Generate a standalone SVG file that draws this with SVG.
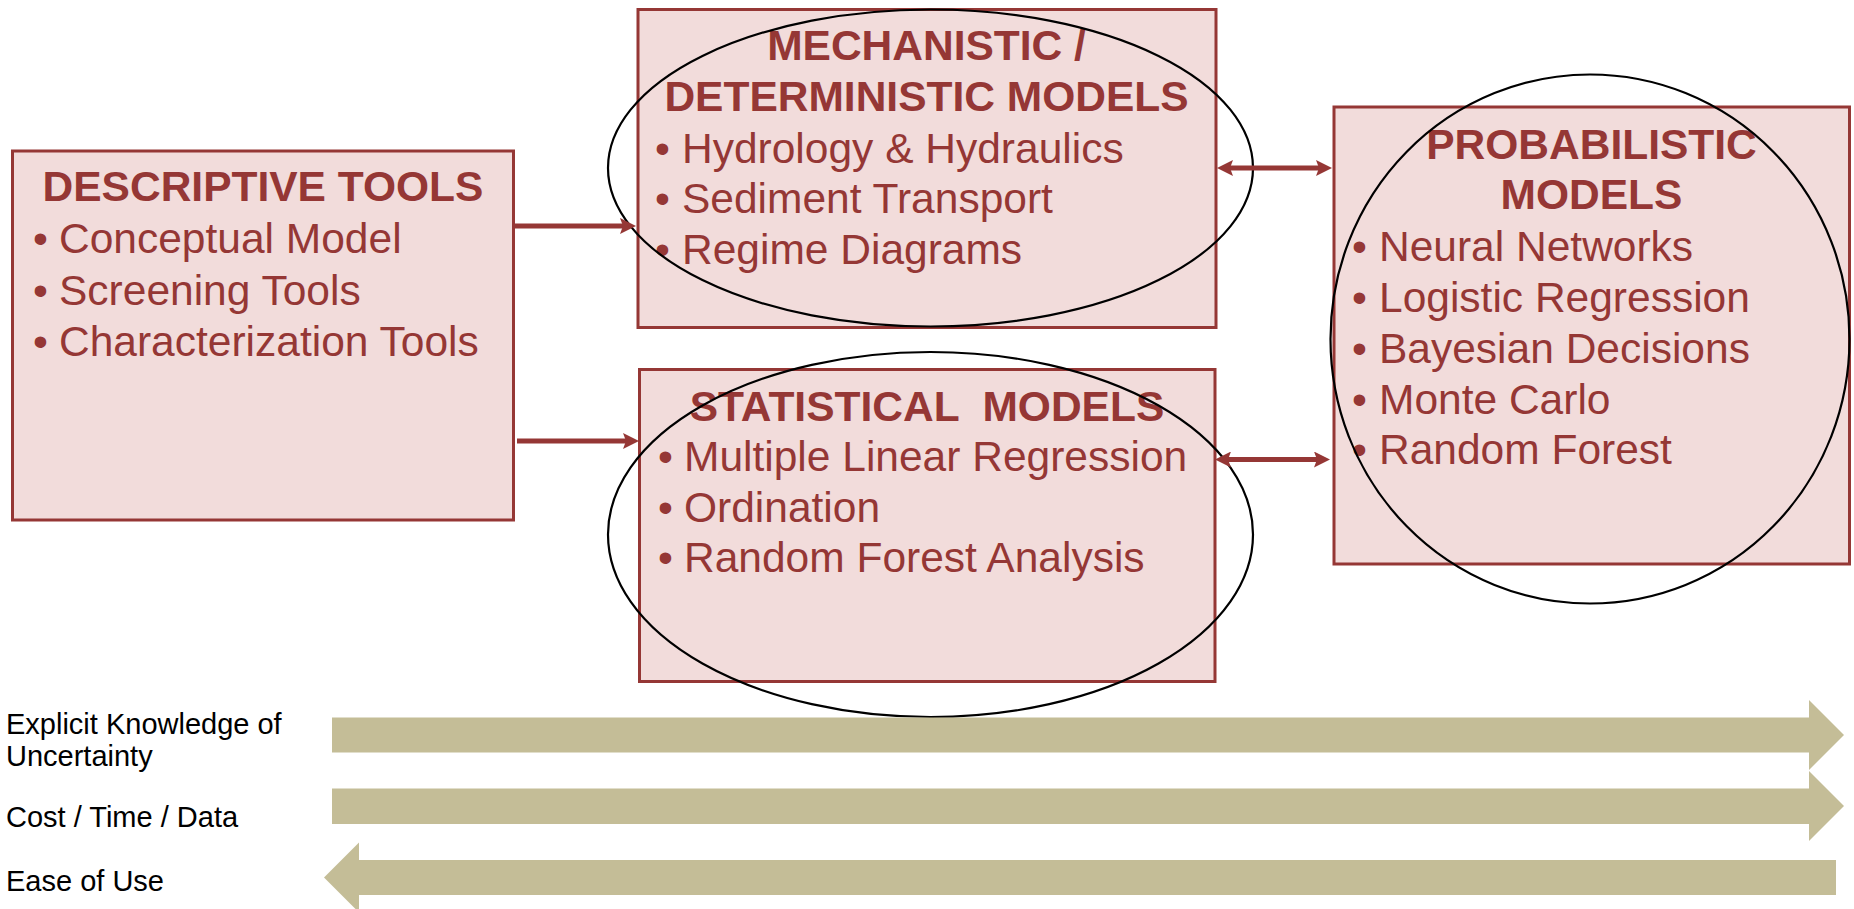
<svg xmlns="http://www.w3.org/2000/svg" width="1854" height="909" viewBox="0 0 1854 909">
  <style>
    .box { fill: #F2DCDB; stroke: #953735; stroke-width: 3; }
    .ring { fill: none; stroke: #000000; stroke-width: 2.2; }
    .title { font-family: "Liberation Sans", Arial, sans-serif; font-size: 42.5px; font-weight: bold; fill: #953735; text-anchor: middle; white-space: pre; }
    .item { font-family: "Liberation Sans", Arial, sans-serif; font-size: 42.5px; fill: #953735; }
    .link { stroke: #953735; stroke-width: 5; fill: none; }
    .band { fill: #C4BD97; }
    .label { font-family: "Liberation Sans", Arial, sans-serif; font-size: 29px; fill: #000000; }
  </style>
  <defs>
    <marker id="head" viewBox="0 0 16 16" refX="6" refY="8" markerWidth="16" markerHeight="16" markerUnits="userSpaceOnUse" orient="auto-start-reverse">
      <path d="M0,0 L16,8 L0,16 L3,8 Z" fill="#953735"/>
    </marker>
  </defs>

  <!-- Descriptive tools -->
  <g id="descriptive">
    <rect class="box" x="12.5" y="151" width="501" height="369"/>
    <text class="title" x="263" y="201">DESCRIPTIVE TOOLS</text>
    <text class="item"><tspan x="33" y="253">•</tspan><tspan x="59" y="253">Conceptual Model</tspan></text>
    <text class="item"><tspan x="33" y="304.5">•</tspan><tspan x="59" y="304.5">Screening Tools</tspan></text>
    <text class="item"><tspan x="33" y="356">•</tspan><tspan x="59" y="356">Characterization Tools</tspan></text>
  </g>

  <!-- Mechanistic / deterministic models -->
  <g id="mechanistic">
    <rect class="box" x="638" y="9.5" width="578" height="318"/>
    <text class="title" x="926.5" y="60">MECHANISTIC /</text>
    <text class="title" x="926.5" y="111">DETERMINISTIC MODELS</text>
    <text class="item"><tspan x="655" y="162.5">•</tspan><tspan x="682" y="162.5">Hydrology &amp; Hydraulics</tspan></text>
    <text class="item"><tspan x="655" y="213">•</tspan><tspan x="682" y="213">Sediment Transport</tspan></text>
    <text class="item"><tspan x="655" y="263.5">•</tspan><tspan x="682" y="263.5">Regime Diagrams</tspan></text>
    <ellipse class="ring" cx="930.5" cy="168" rx="322.5" ry="158.5"/>
  </g>

  <!-- Statistical models -->
  <g id="statistical">
    <rect class="box" x="639.5" y="369.5" width="575.5" height="312"/>
    <text class="title" x="927" y="421">STATISTICAL  MODELS</text>
    <text class="item"><tspan x="658" y="471">•</tspan><tspan x="684" y="471">Multiple Linear Regression</tspan></text>
    <text class="item"><tspan x="658" y="522">•</tspan><tspan x="684" y="522">Ordination</tspan></text>
    <text class="item"><tspan x="658" y="572">•</tspan><tspan x="684" y="572">Random Forest Analysis</tspan></text>
    <ellipse class="ring" cx="930.5" cy="534.5" rx="322.5" ry="182.5"/>
  </g>

  <!-- Probabilistic models -->
  <g id="probabilistic">
    <rect class="box" x="1334" y="107" width="515.5" height="457"/>
    <text class="title" x="1591.5" y="158.5">PROBABILISTIC</text>
    <text class="title" x="1591.5" y="209">MODELS</text>
    <text class="item"><tspan x="1352" y="261">•</tspan><tspan x="1379" y="261">Neural Networks</tspan></text>
    <text class="item"><tspan x="1352" y="312">•</tspan><tspan x="1379" y="312">Logistic Regression</tspan></text>
    <text class="item"><tspan x="1352" y="362.5">•</tspan><tspan x="1379" y="362.5">Bayesian Decisions</tspan></text>
    <text class="item"><tspan x="1352" y="413.5">•</tspan><tspan x="1379" y="413.5">Monte Carlo</tspan></text>
    <text class="item"><tspan x="1352" y="464">•</tspan><tspan x="1379" y="464">Random Forest</tspan></text>
    <ellipse class="ring" cx="1590" cy="339" rx="259.5" ry="264.5"/>
  </g>

  <!-- Connectors between the model groups -->
  <g id="connectors">
    <line class="link" x1="513" y1="226" x2="626" y2="226" marker-end="url(#head)"/>
    <line class="link" x1="517" y1="441" x2="629" y2="441" marker-end="url(#head)"/>
    <line class="link" x1="1227" y1="168" x2="1322" y2="168" marker-start="url(#head)" marker-end="url(#head)"/>
    <line class="link" x1="1225" y1="459.5" x2="1320" y2="459.5" marker-start="url(#head)" marker-end="url(#head)"/>
  </g>

  <!-- Trend scales along the bottom -->
  <g id="scales">
    <polygon class="band" points="332,717.5 1809,717.5 1809,700 1844,735 1809,770 1809,752.5 332,752.5"/>
    <polygon class="band" points="332,788.5 1809,788.5 1809,771 1844,806 1809,841 1809,824 332,824"/>
    <polygon class="band" points="1836,860 359,860 359,842.5 324,877.5 359,912.5 359,895 1836,895"/>
    <text class="label" x="6" y="734">Explicit Knowledge of</text>
    <text class="label" x="6" y="766">Uncertainty</text>
    <text class="label" x="6" y="827">Cost / Time / Data</text>
    <text class="label" x="6" y="891">Ease of Use</text>
  </g>
</svg>
